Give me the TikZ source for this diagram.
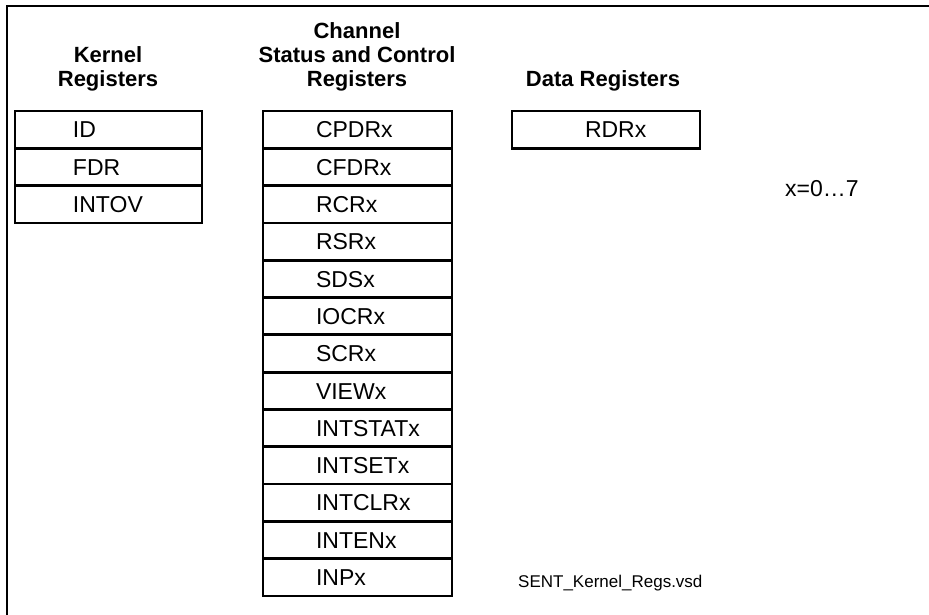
\documentclass[tikz,border=0pt]{standalone}
\usepackage{fontspec}
\setmainfont{Liberation Sans}
\begin{document}
\begin{tikzpicture}[x=1pt,y=-1pt,
  frame/.style={line width=2pt},
  cell/.style={draw, line width=2.8pt, inner sep=0pt, minimum height=37.3pt,
    text height=16.5pt, text depth=0pt, align=left,
    font=\fontsize{23}{27}\selectfont},
  head/.style={inner sep=0pt, align=center, anchor=south,
    font=\fontsize{22}{24}\selectfont\bfseries},
  note/.style={inner sep=0pt, anchor=base west}]
\useasboundingbox (0,0) rectangle (929,615);
\draw[frame] (7,616) -- (7,6) -- (930,6);
% headings
\node[head] (kh) at (108,91.5) {Kernel\\Registers};
\node[head] (ch) at (357,91.5) {Channel\\Status and Control\\Registers};
\node[head] (dh) at (603,91.5) {Data Registers};
% kernel registers
\foreach \t [count=\i] in {ID,FDR,INTOV}
  \node[cell, text width=187pt] (k\i) at (108.5,{111+37.3*(\i-0.5)}) {\hspace*{58pt}\t};
% channel registers
\foreach \t [count=\i] in {CPDRx,CFDRx,RCRx,RSRx,SDSx,IOCRx,SCRx,VIEWx,INTSTATx,INTSETx,INTCLRx,INTENx,INPx}
  \node[cell, text width=189pt] (c\i) at (357.5,{111+37.3*(\i-0.5)}) {\hspace*{53pt}\t};
% data registers
\node[cell, text width=188pt] (d1) at (606,129.65) {\hspace*{73pt}RDRx};
% notes
\node[note, font=\fontsize{23}{27}\selectfont] (xr) at (785,196) {x=0…7};
\node[note, font=\fontsize{17}{20}\selectfont] (fn) at (518,587) {SENT\_Kernel\_Regs.vsd};
\end{tikzpicture}
\end{document}
